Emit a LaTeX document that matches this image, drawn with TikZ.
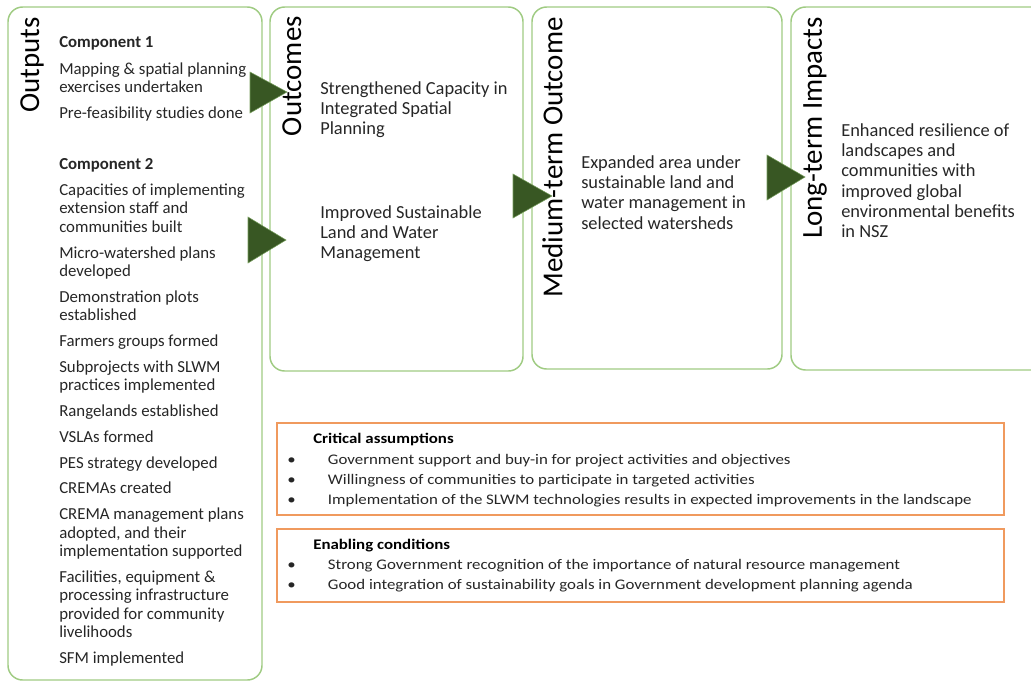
\documentclass[tikz,border=0pt]{standalone}
\usepackage{fontspec}
\setmainfont{Carlito}
\newfontfamily\notefont[FakeStretch=1.15]{Carlito}
\usepackage{xcolor}
\usetikzlibrary{positioning}

\definecolor{boxgreen}{HTML}{9FCB82}
\definecolor{tipgreen}{HTML}{385723}
\definecolor{noteorange}{HTML}{F09A5E}
\definecolor{bodygray}{HTML}{262626}
\newcommand{\bul}{\makebox[30.5pt][l]{\textbullet}}

\begin{document}
\begin{tikzpicture}[x=0.75pt, y=-0.75pt,
    stage/.style={draw=boxgreen, line width=1.1pt, rounded corners=11pt},
    note/.style={draw=noteorange, line width=0.9pt},
    heading/.style={rotate=90, anchor=north east, inner sep=0pt, font=\fontsize{21.7}{26}\selectfont},
    listtext/.style={anchor=north west, inner sep=0pt, align=left, text=bodygray, font=\fontsize{12.6}{13.9}\selectfont},
    goaltext/.style={anchor=north west, inner sep=0pt, align=left, text=bodygray, font=\fontsize{13.8}{15.2}\selectfont},
    notehead/.style={anchor=base west, inner sep=0pt, font=\notefont\fontsize{11}{15}\selectfont\bfseries},
    notelist/.style={anchor=north west, inner sep=0pt, align=left, text=bodygray, font=\notefont\fontsize{11}{15}\selectfont},
    tip/.style={fill=tipgreen, draw=boxgreen!60!tipgreen, line width=0.4pt}
  ]
  \useasboundingbox (0,0) rectangle (1031,682);

  % stage boxes
  \draw[stage] (8,7) rectangle (262,680);
  \draw[stage] (270,7) rectangle (523,371);
  \draw[stage] (532,7) rectangle (782,369);
  \draw[stage] (791,7) rectangle (1050,370);

  \node[heading] (outputs) at (20,17) {Outputs};
  \node[heading] (outcomes) at (282,16) {Outcomes};
  \node[heading] (medium) at (542,17) {Medium-term Outcome};
  \node[heading] (impacts) at (803,17) {Long-term Impacts};

  \node[listtext] (outlist) at (59,34) {\strut\textbf{Component 1}\\[6.2pt]
    Mapping \& spatial planning\\ exercises undertaken\\[5.4pt]
    Pre-feasibility studies done\\[24.5pt]
    \textbf{Component 2}\\[5.4pt]
    Capacities of implementing\\ extension staff and\\ communities built\\[5.4pt]
    Micro-watershed plans\\ developed\\[5.4pt]
    Demonstration plots\\ established\\[5.4pt]
    Farmers groups formed\\[5.4pt]
    Subprojects with SLWM\\ practices implemented\\[5.4pt]
    Rangelands established\\[5.4pt]
    VSLAs formed\\[5.4pt]
    PES strategy developed\\[5.4pt]
    CREMAs created\\[5.4pt]
    CREMA management plans\\ adopted, and their\\ implementation supported\\[5.4pt]
    Facilities, equipment \&\\ processing infrastructure\\ provided for community\\ livelihoods\\[5.4pt]
    SFM implemented};

  \node[goaltext] (capacity) at (320,79.8) {\strut Strengthened Capacity in\\Integrated Spatial\\Planning};
  \node[goaltext] (slwm) at (320,203.8) {\strut Improved Sustainable\\Land and Water\\Management};
  \node[goaltext] (area) at (581,153.8) {\strut Expanded area under\\sustainable land and\\water management in\\selected watersheds};
  \node[goaltext] (resilience) at (841,121.8) {\strut Enhanced resilience of\\landscapes and\\communities with\\improved global\\environmental benefits\\in NSZ};

  % arrows between stages
  \draw[tip] (250,72) -- (287,92) -- (250,113) -- cycle;
  \draw[tip] (248,217) -- (286,240) -- (248,263) -- cycle;
  \draw[tip] (513,174) -- (552,196) -- (513,218) -- cycle;
  \draw[tip] (767,155) -- (805,177) -- (767,200) -- cycle;

  % assumptions and conditions
  \draw[note] (277,423) rectangle (1004,515);
  \node[notehead] (crit) at (313,443.7) {Critical assumptions};
  \node[notelist] (critlist) at (287,450.7) {\strut\bul Government support and buy-in for project activities and objectives\\
    \bul Willingness of communities to participate in targeted activities\\
    \bul Implementation of the SLWM technologies results in expected improvements in the landscape};

  \draw[note] (277,529) rectangle (1004,602);
  \node[notehead] (enabling) at (313,549.7) {Enabling conditions};
  \node[notelist] (enablist) at (287,555.7) {\strut\bul Strong Government recognition of the importance of natural resource management\\
    \bul Good integration of sustainability goals in Government development planning agenda};
\end{tikzpicture}
\end{document}
